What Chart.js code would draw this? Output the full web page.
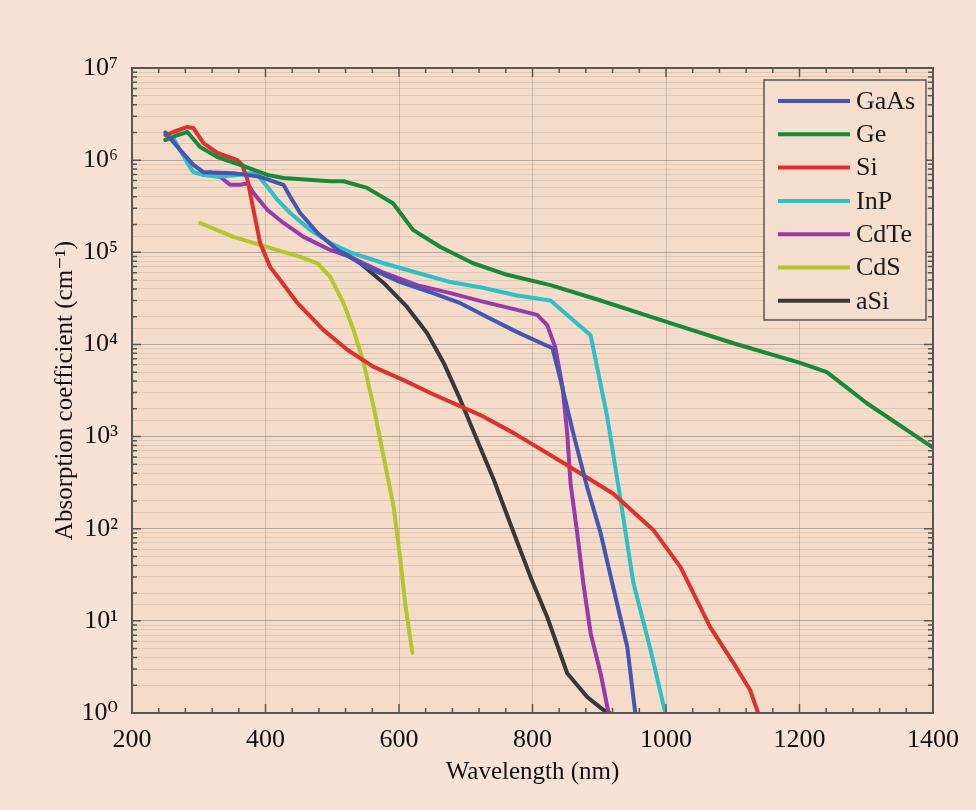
<!DOCTYPE html>
<html lang="en">
<head>
<meta charset="UTF-8">
<title>Absorption coefficient</title>
<script src="https://cdn.jsdelivr.net/npm/chart.js"></script>
<style>
  html, body { margin: 0; padding: 0; background: #f8e2d8; }
  #wrap { width: 976px; height: 810px; }
</style>
</head>
<body>
<div id="wrap"><canvas id="absChart" width="976" height="810"></canvas></div>
<script>
// wavelength (nm) / absorption coefficient (cm^-1)
const gaasNm  = [250, 272, 292, 307, 352, 392, 427, 437, 452, 478, 508, 552, 602, 651, 692, 732, 777, 830, 842, 861, 882, 902, 921, 942, 954];
const gaasAbs = [2.0e6, 1.29e6, 8.9e5, 7.4e5, 7.2e5, 6.6e5, 5.4e5, 4.0e5, 2.67e5, 1.62e5, 1.06e5, 6.9e4, 4.75e4, 3.6e4, 2.8e4, 1.98e4, 1.36e4, 9.1e3, 4.1e3, 1.09e3, 280, 90, 23, 5.2, 1];

const geNm  = [250, 268, 283, 302, 328, 362, 403, 427, 497, 517, 552, 591, 602, 621, 662, 711, 762, 827, 902, 1002, 1101, 1201, 1241, 1301, 1400];
const geAbs = [1.66e6, 1.87e6, 2.02e6, 1.39e6, 1.08e6, 8.9e5, 6.9e5, 6.4e5, 5.9e5, 5.9e5, 5.0e5, 3.4e5, 2.67e5, 1.75e5, 1.14e5, 7.6e4, 5.7e4, 4.4e4, 3.0e4, 1.75e4, 1.03e4, 6.3e3, 5.0e3, 2.3e3, 760];

const siNm  = [250, 262, 283, 292, 307, 328, 358, 365, 373, 382, 392, 407, 422, 448, 487, 523, 562, 607, 647, 722, 772, 846, 921, 981, 1022, 1037, 1066, 1101, 1126, 1138];
const siAbs = [1.87e6, 2.02e6, 2.29e6, 2.23e6, 1.53e6, 1.2e6, 1.0e6, 8.9e5, 6.1e5, 2.88e5, 1.26e5, 6.9e4, 5.0e4, 2.8e4, 1.43e4, 8.7e3, 5.7e3, 4.1e3, 2.97e3, 1.71e3, 1.09e3, 520, 240, 97, 38, 23, 8.6, 3.5, 1.78, 1];

const inpNm  = [250, 262, 272, 283, 292, 307, 328, 358, 377, 388, 403, 418, 437, 467, 497, 527, 577, 627, 677, 727, 777, 827, 887, 912, 932, 951, 977, 999];
const inpAbs = [1.66e6, 1.74e6, 1.29e6, 9.3e5, 7.4e5, 6.9e5, 6.6e5, 6.9e5, 7.2e5, 6.9e5, 5.1e5, 3.7e5, 2.67e5, 1.75e5, 1.26e5, 1.0e5, 7.6e4, 6.0e4, 4.75e4, 4.1e4, 3.4e4, 3.0e4, 1.26e4, 1.63e3, 205, 26, 4.8, 1];

const cdteNm  = [302, 317, 332, 347, 362, 373, 382, 403, 427, 457, 497, 527, 577, 627, 677, 727, 777, 807, 822, 834, 845, 852, 857, 867, 876, 887, 902, 914];
const cdteAbs = [7.2e5, 7.4e5, 6.6e5, 5.4e5, 5.4e5, 5.6e5, 4.4e5, 2.88e5, 2.08e5, 1.47e5, 1.06e5, 8.9e4, 6.0e4, 4.4e4, 3.6e4, 2.9e4, 2.37e4, 2.09e4, 1.62e4, 9.4e3, 3.45e3, 1.09e3, 310, 90, 26, 7.4, 2.7, 1];

const cdsNm  = [302, 352, 403, 452, 478, 497, 517, 532, 547, 562, 577, 592, 602, 610, 620];
const cdsAbs = [2.08e5, 1.47e5, 1.14e5, 8.9e4, 7.6e4, 5.4e4, 2.8e4, 1.43e4, 6.3e3, 2.1e3, 600, 172, 46, 14, 4.5];

const asiNm  = [508, 542, 577, 612, 642, 667, 692, 717, 742, 772, 797, 822, 852, 882, 906, 916];
const asiAbs = [1.11e5, 7.6e4, 4.65e4, 2.55e4, 1.33e4, 6.3e3, 2.5e3, 920, 340, 90, 30, 11, 2.7, 1.49, 1.08, 1];

const seriesNames  = ['GaAs', 'Ge', 'Si', 'InP', 'CdTe', 'CdS', 'aSi'];
const seriesColors = ['#4556b2', '#17893b', '#e0302e', '#2ebfc7', '#9a3aaa', '#b5c52c', '#38383a'];
const xTicks = [200, 400, 600, 800, 1000, 1200, 1400];
const yTickLabels = ['10\u2070', '10\u00b9', '10\u00b2', '10\u00b3', '10\u2074', '10\u2075', '10\u2076', '10\u2077'];

const seriesX = [gaasNm, geNm, siNm, inpNm, cdteNm, cdsNm, asiNm];
const seriesY = [gaasAbs, geAbs, siAbs, inpAbs, cdteAbs, cdsAbs, asiAbs];

const serif = "'Liberation Serif', 'DejaVu Serif', serif";
const frameColor = '#5a5550';

const datasets = seriesNames.map((name, i) => ({
    label: name,
    data: seriesX[i].map((x, j) => ({ x: x, y: seriesY[i][j] })),
    borderColor: seriesColors[i],
    backgroundColor: seriesColors[i],
    borderWidth: 4,
    borderJoinStyle: 'round',
    borderCapStyle: 'round',
    pointRadius: 0,
    tension: 0,
    fill: false
}));

function isDecade(v) {
    const l = Math.log10(v);
    return Math.abs(l - Math.round(l)) < 1e-9;
}

// background, frame, inward ticks and the legend box
const decorPlugin = {
    id: 'decor',
    beforeDraw(chart) {
        const { ctx, chartArea: a } = chart;
        ctx.save();
        ctx.fillStyle = '#f8e2d8';
        ctx.fillRect(0, 0, chart.width, chart.height);
        ctx.fillStyle = '#f5dcc9';
        ctx.fillRect(a.left, a.top, a.right - a.left, a.bottom - a.top);
        ctx.restore();
    },
    afterDraw(chart) {
        const { ctx, chartArea: a, scales } = chart;
        ctx.save();
        ctx.strokeStyle = frameColor;
        ctx.lineWidth = 2;
        ctx.strokeRect(a.left, a.top, a.right - a.left, a.bottom - a.top);

        ctx.lineWidth = 1.5;
        ctx.beginPath();
        for (let v = 200; v <= 1400; v += 40) {
            const px = scales.x.getPixelForValue(v);
            const len = (v % 200 === 0) ? 9 : 5;
            ctx.moveTo(px, a.bottom); ctx.lineTo(px, a.bottom - len);
            ctx.moveTo(px, a.top); ctx.lineTo(px, a.top + len);
        }
        for (let d = 0; d < 7; d++) {
            for (let m = 1; m <= 9; m++) {
                const py = scales.y.getPixelForValue(m * Math.pow(10, d));
                const len = (m === 1) ? 9 : 5;
                ctx.moveTo(a.left, py); ctx.lineTo(a.left + len, py);
                ctx.moveTo(a.right, py); ctx.lineTo(a.right - len, py);
            }
        }
        ctx.stroke();

        // legend
        const bx = 764, by = 80, bw = 162, bh = 240;
        ctx.fillStyle = '#f6dece';
        ctx.fillRect(bx, by, bw, bh);
        ctx.strokeStyle = frameColor;
        ctx.lineWidth = 1.5;
        ctx.strokeRect(bx, by, bw, bh);
        ctx.font = '26px ' + serif;
        ctx.textBaseline = 'middle';
        ctx.textAlign = 'left';
        chart.data.datasets.forEach((ds, i) => {
            const y = by + 21 + i * 33.3;
            ctx.strokeStyle = ds.borderColor;
            ctx.lineWidth = 4;
            ctx.beginPath();
            ctx.moveTo(778, y); ctx.lineTo(850, y);
            ctx.stroke();
            ctx.fillStyle = '#1a1a1a';
            ctx.fillText(ds.label, 856, y + 1);
        });
        ctx.restore();
    }
};

new Chart(document.getElementById('absChart'), {
    type: 'line',
    data: { datasets: datasets },
    options: {
        responsive: false,
        animation: false,
        layout: { padding: { top: 68, right: 43, left: 0, bottom: 0 } },
        plugins: { legend: { display: false }, tooltip: { enabled: false } },
        scales: {
            x: {
                type: 'linear',
                min: 200,
                max: 1400,
                afterFit(scale) { scale.height = 97; },
                afterBuildTicks(scale) { scale.ticks = xTicks.map(v => ({ value: v })); },
                ticks: {
                    color: '#111',
                    font: { family: serif, size: 26 },
                    padding: 12,
                    maxRotation: 0,
                    callback: (v) => String(v)
                },
                grid: {
                    drawTicks: false,
                    color: 'rgba(140,130,120,0.35)',
                    lineWidth: 1
                },
                border: { display: false },
                title: {
                    display: true,
                    text: 'Wavelength (nm)',
                    color: '#111',
                    font: { family: serif, size: 25 },
                    padding: { top: 0, bottom: 23 }
                }
            },
            y: {
                type: 'logarithmic',
                min: 1,
                max: 1e7,
                afterFit(scale) { scale.width = 132; },
                ticks: {
                    autoSkip: false,
                    color: '#111',
                    font: { family: serif, size: 26 },
                    padding: 14,
                    callback: (v) => isDecade(v) ? yTickLabels[Math.round(Math.log10(v))] : ''
                },
                grid: {
                    drawTicks: false,
                    color: (c) => isDecade(c.tick.value) ? 'rgba(120,110,100,0.5)' : 'rgba(150,140,130,0.25)',
                    lineWidth: 1
                },
                border: { display: false },
                title: {
                    display: true,
                    text: 'Absorption coefficient (cm\u207b\u00b9)',
                    color: '#111',
                    font: { family: serif, size: 25 },
                    padding: { top: 50, bottom: 0 }
                }
            }
        }
    },
    plugins: [decorPlugin]
});
</script>
</body>
</html>
